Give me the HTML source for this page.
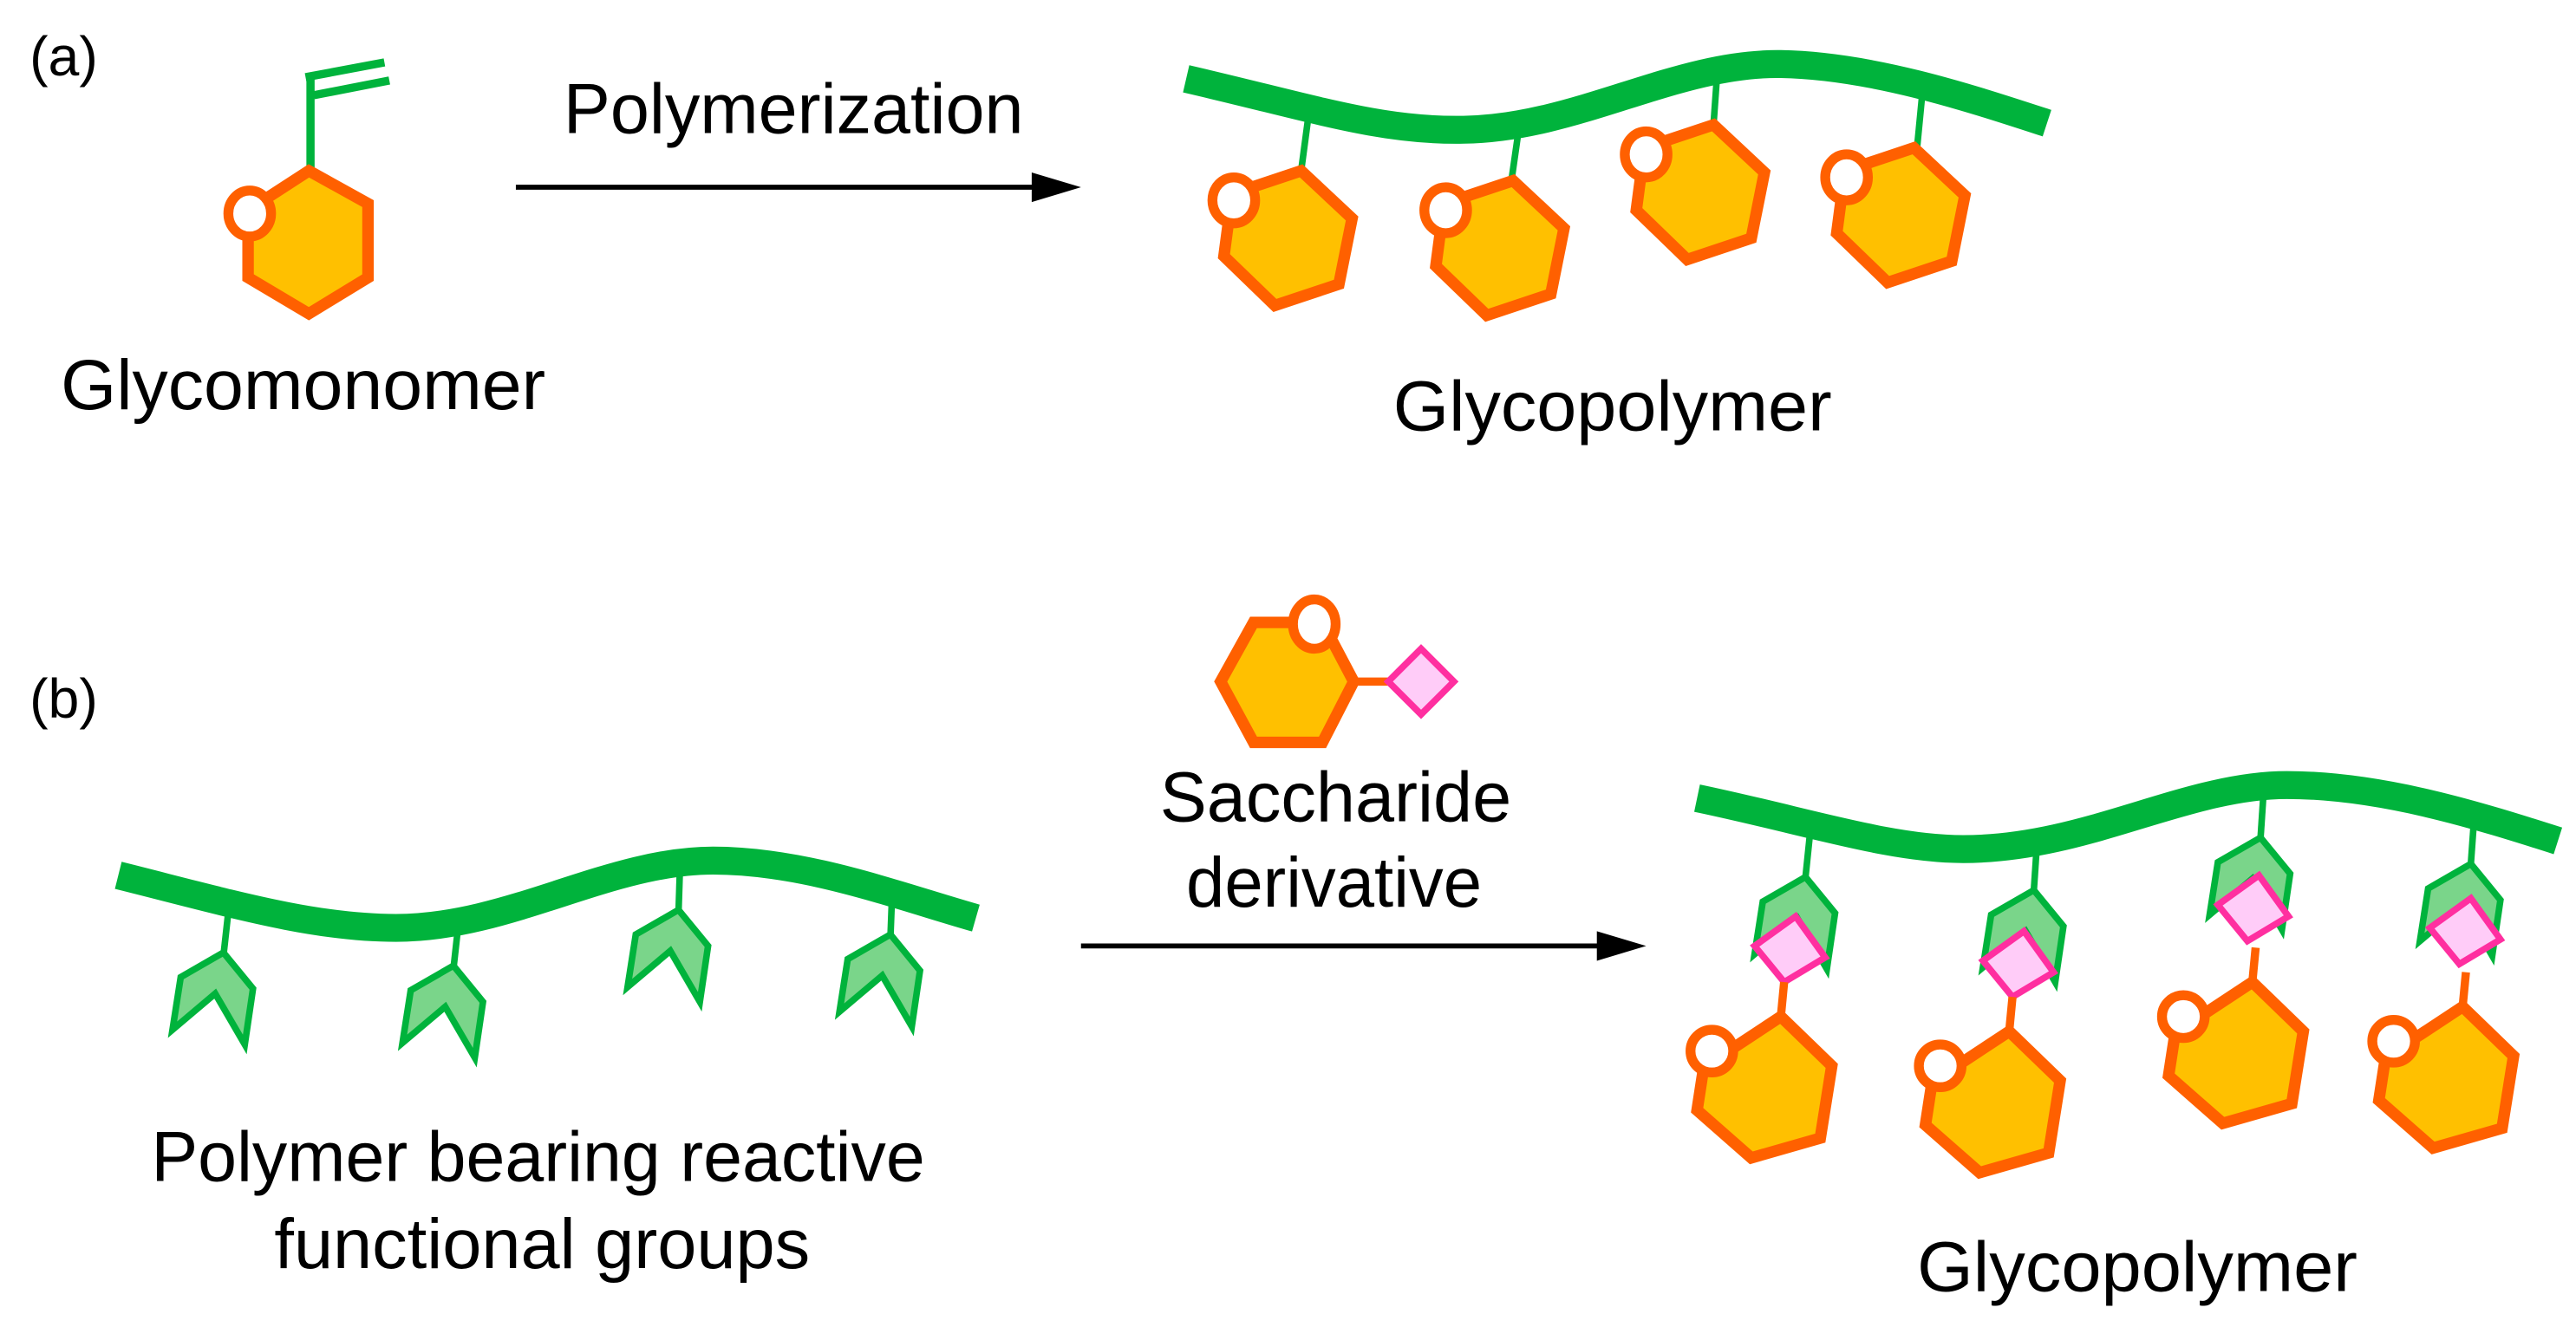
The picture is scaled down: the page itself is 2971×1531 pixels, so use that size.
<!DOCTYPE html>
<html><head><meta charset="utf-8"><style>
html,body{margin:0;padding:0;background:#fff;}
svg{display:block;}
text{font-family:"Liberation Sans",Arial,sans-serif;fill:#000;}
</style></head><body>
<svg width="2971" height="1531" viewBox="0 0 1568 808" xmlns="http://www.w3.org/2000/svg">
<defs>
  <g id="chev">
    <polygon points="0,0 18,22 13,56 -5,25 -31,47 -26,15" fill="#7ad58a" stroke="#00b33c" stroke-width="4" stroke-linejoin="miter"/>
  </g>
  <g id="sugA">
    <polygon points="792,104 823,133 815,173 776,186 745,156 750,118" fill="#ffc000" stroke="#ff6000" stroke-width="7" stroke-linejoin="miter"/>
    <ellipse cx="751" cy="122" rx="13" ry="14" fill="#fff" stroke="#ff6000" stroke-width="6"/>
  </g>
  <g id="sugB">
    <line x1="1086" y1="598" x2="1084" y2="619" stroke="#ff6000" stroke-width="5"/>
    <polygon points="1084,619 1115,649 1108,693 1066,705 1033,676 1037,650" fill="#ffc000" stroke="#ff6000" stroke-width="7"/>
    <ellipse cx="1042" cy="640" rx="13" ry="13" fill="#fff" stroke="#ff6000" stroke-width="6"/>
  </g>
  <g id="diaB">
    <polygon points="1093,558 1111,583 1086,598 1068,576" fill="#ffccf8" stroke="#ff2fa0" stroke-width="4"/>
  </g>
</defs>

<!-- (a) -->
<text x="18" y="46" font-size="34">(a)</text>
<line x1="189" y1="104" x2="189" y2="46" stroke="#00b33c" stroke-width="5"/>
<line x1="186" y1="47" x2="234" y2="38" stroke="#00b33c" stroke-width="5"/>
<line x1="191" y1="58" x2="237" y2="49" stroke="#00b33c" stroke-width="5"/>
<polygon points="188,104 224,124 224,169 188,191 151,169 151,128" fill="#ffc000" stroke="#ff6000" stroke-width="7"/>
<ellipse cx="152" cy="130" rx="13" ry="14" fill="#fff" stroke="#ff6000" stroke-width="6"/>
<text x="37" y="249" font-size="43" textLength="295" lengthAdjust="spacingAndGlyphs">Glycomonomer</text>

<line x1="314" y1="114" x2="632" y2="114" stroke="#000" stroke-width="3"/>
<polygon points="628,105 658,114 628,123" fill="#000"/>
<text x="343" y="81" font-size="43" textLength="280" lengthAdjust="spacingAndGlyphs">Polymerization</text>

<line x1="796" y1="74" x2="792" y2="104" stroke="#00b33c" stroke-width="4"/>
<line x1="924" y1="82" x2="920" y2="110" stroke="#00b33c" stroke-width="4"/>
<line x1="1045" y1="48" x2="1043" y2="76" stroke="#00b33c" stroke-width="4"/>
<line x1="1170" y1="58" x2="1167" y2="89" stroke="#00b33c" stroke-width="4"/>
<path d="M722,48 C800,66 840,80 891,79 C960,78 1020,38 1084,39 C1140,40 1200,60 1246,75" fill="none" stroke="#00b33c" stroke-width="17"/>
<use href="#sugA"/>
<use href="#sugA" transform="translate(129,6)"/>
<use href="#sugA" transform="translate(251,-28)"/>
<use href="#sugA" transform="translate(373,-14)"/>
<text x="848" y="262" font-size="43" textLength="267" lengthAdjust="spacingAndGlyphs">Glycopolymer</text>

<!-- (b) -->
<text x="18" y="437" font-size="34">(b)</text>

<line x1="139" y1="555" x2="136" y2="582" stroke="#00b33c" stroke-width="4"/>
<line x1="279" y1="563" x2="276" y2="590" stroke="#00b33c" stroke-width="4"/>
<line x1="414" y1="525" x2="413" y2="556" stroke="#00b33c" stroke-width="4"/>
<line x1="543" y1="545" x2="542" y2="571" stroke="#00b33c" stroke-width="4"/>
<path d="M72,533 C140,550 190,565 241,565 C310,565 370,524 434,524 C490,524 545,545 594,559" fill="none" stroke="#00b33c" stroke-width="17"/>
<use href="#chev" transform="translate(136,580)"/>
<use href="#chev" transform="translate(276,588)"/>
<use href="#chev" transform="translate(413,554)"/>
<use href="#chev" transform="translate(542,569)"/>
<text x="92" y="719" font-size="43" textLength="471" lengthAdjust="spacingAndGlyphs">Polymer bearing reactive</text>
<text x="167" y="772" font-size="43" textLength="326" lengthAdjust="spacingAndGlyphs">functional groups</text>

<line x1="824" y1="415" x2="846" y2="415" stroke="#ff6000" stroke-width="5"/>
<polygon points="743,415 763,379 805,379 824,415 805,452 763,452" fill="#ffc000" stroke="#ff6000" stroke-width="7"/>
<ellipse cx="800" cy="380" rx="13" ry="15" fill="#fff" stroke="#ff6000" stroke-width="6"/>
<polygon points="865,395 885,415 865,435 845,415" fill="#ffccf8" stroke="#ff2fa0" stroke-width="4"/>
<text x="706" y="500" font-size="43" textLength="214" lengthAdjust="spacingAndGlyphs">Saccharide</text>
<text x="722" y="552" font-size="43" textLength="180" lengthAdjust="spacingAndGlyphs">derivative</text>

<line x1="658" y1="576" x2="976" y2="576" stroke="#000" stroke-width="3"/>
<polygon points="972,567 1002,576 972,585" fill="#000"/>

<line x1="1102" y1="505" x2="1099" y2="534" stroke="#00b33c" stroke-width="4"/>
<line x1="1240" y1="512" x2="1238" y2="542" stroke="#00b33c" stroke-width="4"/>
<line x1="1378" y1="480" x2="1376" y2="510" stroke="#00b33c" stroke-width="4"/>
<line x1="1506" y1="498" x2="1504" y2="526" stroke="#00b33c" stroke-width="4"/>
<path d="M1033,486 C1100,500 1150,517 1195,517 C1270,517 1330,478 1392,478 C1450,478 1510,497 1557,512" fill="none" stroke="#00b33c" stroke-width="17"/>
<use href="#chev" transform="translate(1099,534)"/>
<use href="#chev" transform="translate(1238,542)"/>
<use href="#chev" transform="translate(1376,510)"/>
<use href="#chev" transform="translate(1504,526)"/>
<use href="#diaB"/>
<use href="#diaB" transform="translate(139,9)"/>
<use href="#diaB" transform="translate(282,-25)"/>
<use href="#diaB" transform="translate(411,-11)"/>
<use href="#sugB"/>
<use href="#sugB" transform="translate(139,9)"/>
<use href="#sugB" transform="translate(287,-21)"/>
<use href="#sugB" transform="translate(415,-6)"/>
<text x="1167" y="786" font-size="43" textLength="268" lengthAdjust="spacingAndGlyphs">Glycopolymer</text>
</svg>
</body></html>
